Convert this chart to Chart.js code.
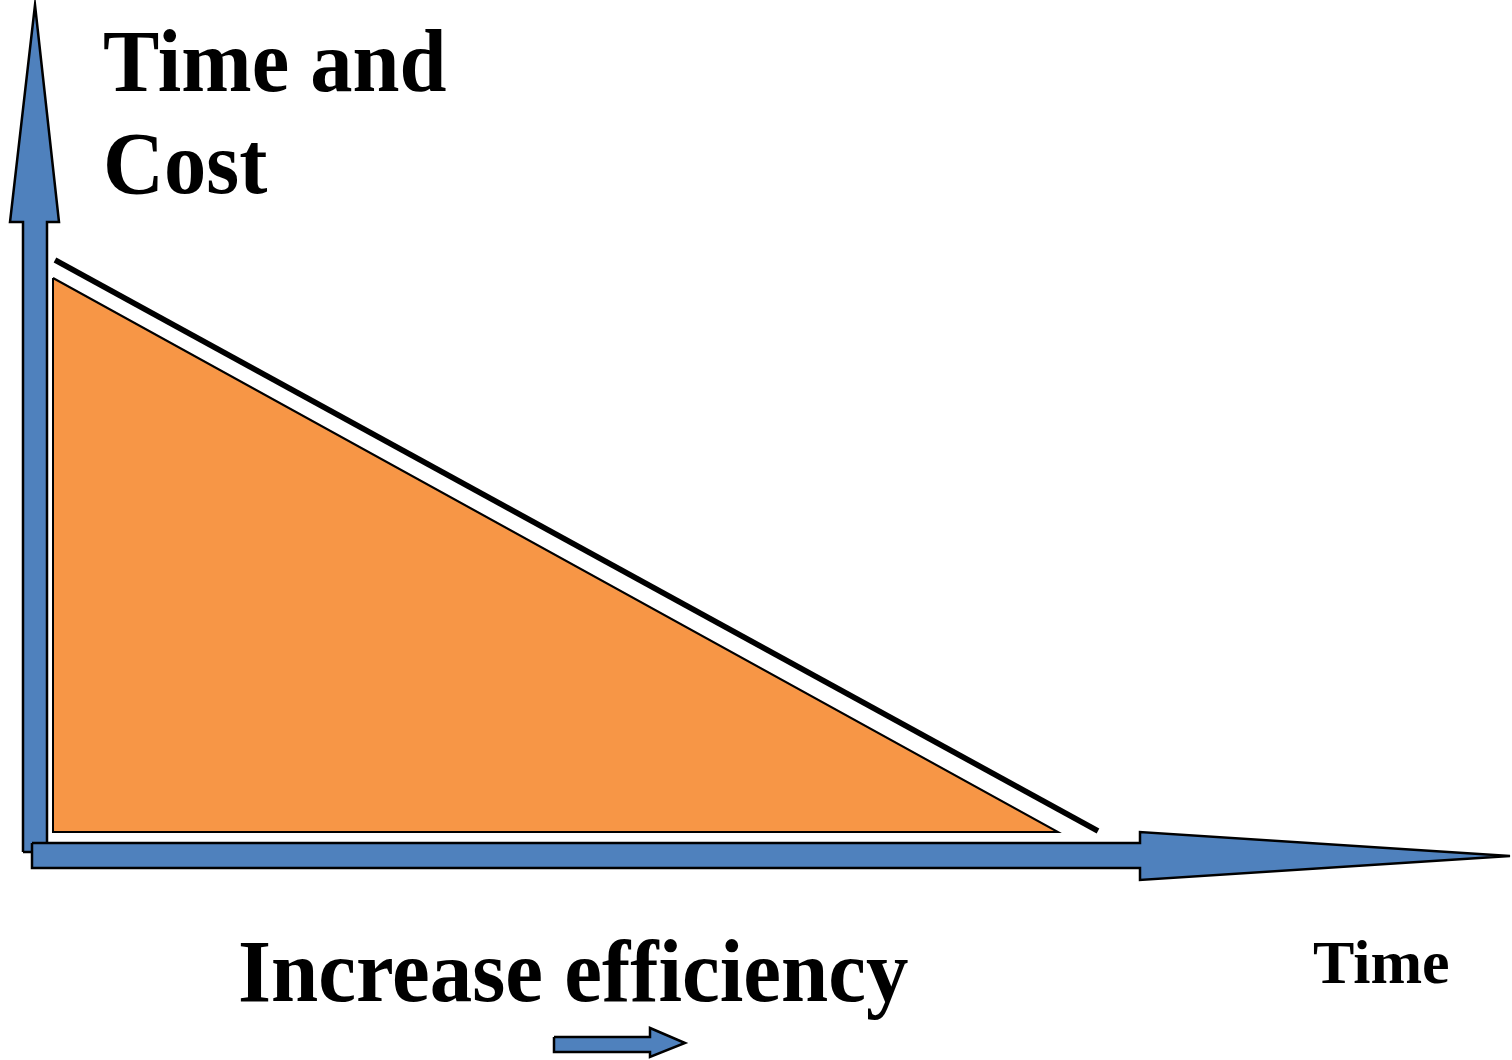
<!DOCTYPE html>
<html>
<head>
<meta charset="utf-8">
<script src="https://cdn.jsdelivr.net/npm/chart.js@4.4.1/dist/chart.umd.min.js"></script>
<style>
  html, body { margin: 0; padding: 0; background: #fff; }
  #wrap { position: relative; width: 1512px; height: 1060px; overflow: hidden; }
  #chart { position: absolute; left: 0; top: 0; }
  .lbl { position: absolute; font-family: "Liberation Serif", "Times New Roman", serif; font-weight: bold; color: #000; white-space: nowrap; transform-origin: left top; }
</style>
</head>
<body>
<div id="wrap">
  <canvas id="chart" width="1512" height="1060"></canvas>
  <div class="lbl" style="left:103px; top:11px; font-size:88px; line-height:102px; transform:scaleX(0.96)">Time and<br>Cost</div>
  <div class="lbl" style="left:238px; top:928px; font-size:88px; line-height:88px; transform:scaleX(0.965)">Increase efficiency</div>
  <div class="lbl" style="left:1313px; top:932px; font-size:62px; line-height:60px">Time</div>
</div>
<script>
// shapes in the diagram's own units (x right, y down, same size as the picture)
const triangleX = [53, 53, 1058, 53];
const triangleY = [278, 832, 832, 278];

const lineX = [55, 1098];
const lineY = [260, 831];

const upArrowX = [23, 23, 10, 35, 59, 47, 47, 23];
const upArrowY = [852, 222, 222, 5, 222, 222, 852, 852];

const rightArrowX = [32, 1140, 1140, 1510, 1140, 1140, 32, 32];
const rightArrowY = [843, 843, 832, 856, 880, 868, 868, 843];

const smallArrowX = [554, 650, 650, 685, 650, 650, 554, 554];
const smallArrowY = [1037, 1037, 1028, 1043, 1057, 1052, 1052, 1037];

const BLUE = "#4F81BD";
const ORANGE = "#F79646";

const pts = (xs, ys) => xs.map((x, i) => ({ x, y: ys[i] }));

const shape = (xs, ys, fillColor, borderWidth) => ({
  data: pts(xs, ys),
  borderColor: "#000",
  borderWidth,
  backgroundColor: fillColor,
  fill: "shape",
  pointRadius: 0,
  tension: 0,
  borderJoinStyle: "miter"
});

new Chart(document.getElementById("chart"), {
  type: "line",
  data: {
    datasets: [
      shape(rightArrowX, rightArrowY, BLUE, 2.5),
      shape(upArrowX, upArrowY, BLUE, 2.5),
      shape(smallArrowX, smallArrowY, BLUE, 2.5),
      { data: pts(lineX, lineY), borderColor: "#000", borderWidth: 5.5, pointRadius: 0, fill: false },
      shape(triangleX, triangleY, ORANGE, 2)
    ]
  },
  options: {
    responsive: false,
    animation: false,
    events: [],
    layout: { padding: 0 },
    plugins: { legend: { display: false }, tooltip: { enabled: false } },
    scales: {
      x: { type: "linear", min: 0, max: 1512, display: false },
      y: { type: "linear", min: 0, max: 1060, reverse: true, display: false }
    }
  }
});
</script>
</body>
</html>
